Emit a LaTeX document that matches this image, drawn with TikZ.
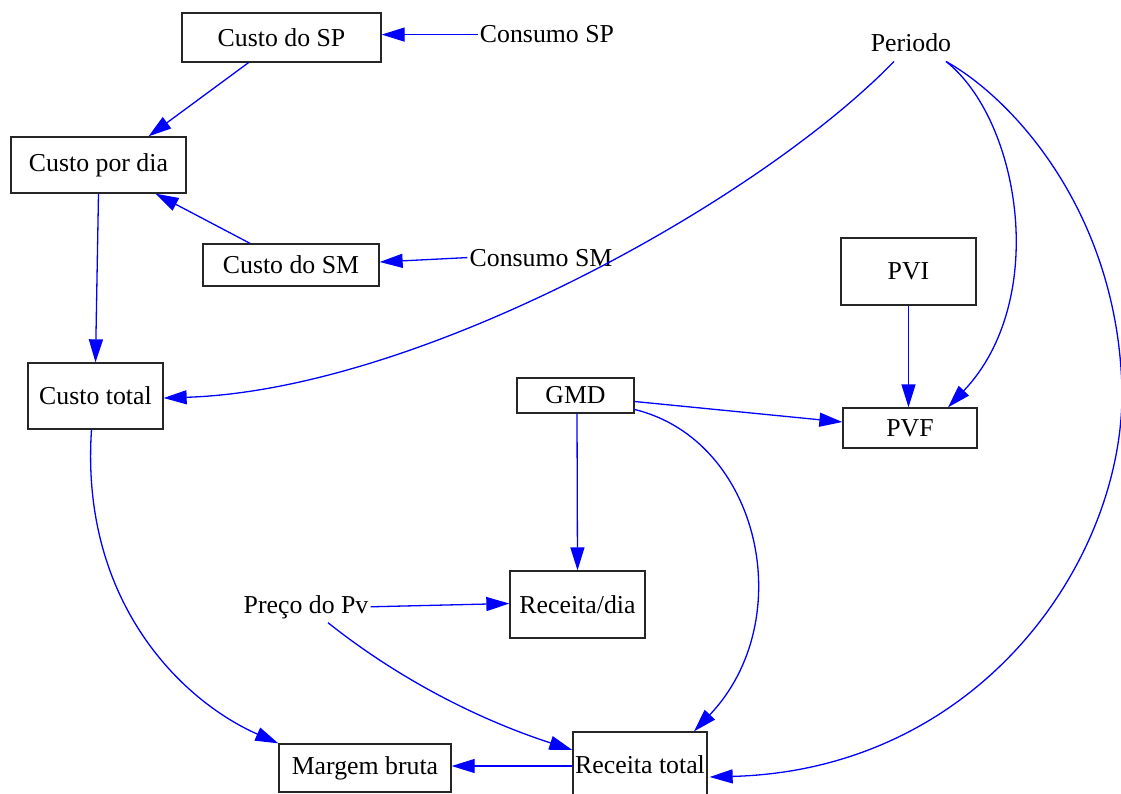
\documentclass[tikz,border=0pt]{standalone}
\usepackage{fontspec}
\setmainfont{Liberation Serif}
\usetikzlibrary{arrows.meta,calc}
\begin{document}
\begin{tikzpicture}[x=1pt,y=-1pt,
  txt/.style={font=\fontsize{25.8}{30}\selectfont},
  box/.style={txt,draw=black!85,line width=1.3pt,inner sep=0pt,fill=white},
  lbl/.style={txt,inner sep=2pt,anchor=base},
  link/.style={draw=blue,line width=1.3pt,-{Triangle[length=23pt,width=14pt]}}]
\useasboundingbox (0,0) rectangle (1121,794);
\clip (0,0) rectangle (1121,794);
\fill[white] (0,0) rectangle (1121,794);

% boxes
\node[box,minimum width=199pt,minimum height=49pt] (csp) at (281.5,37.5) {Custo do SP};
\node[box,minimum width=175pt,minimum height=56pt] (cpd) at (98.5,165) {Custo por dia};
\node[box,minimum width=176pt,minimum height=42pt] (csm) at (291,265) {Custo do SM};
\node[box,minimum width=135pt,minimum height=66pt] (ct) at (95.5,396) {Custo total};
\node[box,minimum width=135pt,minimum height=67pt] (pvi) at (908.5,271.5) {PVI};
\node[box,minimum width=134pt,minimum height=40pt] (pvf) at (910,428) {PVF};
\node[box,minimum width=117pt,minimum height=35pt] (gmd) at (575.5,395.5) {GMD};
\node[box,minimum width=135pt,minimum height=67pt] (rd) at (577.5,604.5) {Receita/dia};
\node[box,minimum width=172pt,minimum height=48pt] (mb) at (365,768) {Margem bruta};
\node[box,minimum width=134pt,minimum height=66pt] (rt) at (640,765) {Receita total};

% plain labels
\node[lbl] (consp) at (547,43) {Consumo SP};
\node[lbl] (consm) at (541,266) {Consumo SM};
\node[lbl] (per) at (911,52) {Periodo};
\node[lbl] (preco) at (306,613) {Preço do Pv};

% straight links
\draw[link] (consp.west) -- (csp.east |- consp.west);
\draw[link] ($(csp.south)+(-33,0)$) -- ($(cpd.north)+(50,0)$);
\draw[link] ($(csm.north)+(-41,0)$) -- ($(cpd.south)+(57,0)$);
\draw[link] (consm.west) -- ($(csm.east)+(0,-3)$);
\draw[link] (cpd.south) -- (ct.north);
\draw[link] (pvi.south) -- (pvi.south |- pvf.north);
\draw[link] ($(gmd.east)+(0,6)$) -- ($(pvf.west)+(0,-6)$);
\draw[link] ($(gmd.south)+(1.5,0)$) -- (rd.north);
\draw[link] (preco.east) -- ($(rd.west)+(0,-1)$);
\draw[link] ($(rt.west)+(0,1)$) -- ($(mb.east)+(0,-2)$);

% curved links
\draw[link] ($(per.south)+(-17,7)$) .. controls (760,200) and (420,390) .. ($(ct.east)+(0,2)$);
\draw[link] ($(per.south)+(35,7)$) .. controls (1020,120) and (1050,300) .. ($(pvf.north)+(38,0)$);
\draw[link] ($(per.south)+(35,7)$) .. controls (1015,100) and (1118,215) .. (1122,390)
  .. controls (1124,560) and (980,770) .. ($(rt.east)+(2,12)$);
\draw[link] ($(gmd.east)+(0,14)$) .. controls (760,440) and (800,620) .. ($(rt.north)+(54,0)$);
\draw[link] ($(preco.south)+(22,2)$) .. controls (400,680) and (480,720) .. ($(rt.west)+(0,-15)$);
\draw[link] ($(ct.south)+(-4,0)$) .. controls (80,600) and (180,700) .. (mb.north west);
\end{tikzpicture}
\end{document}
